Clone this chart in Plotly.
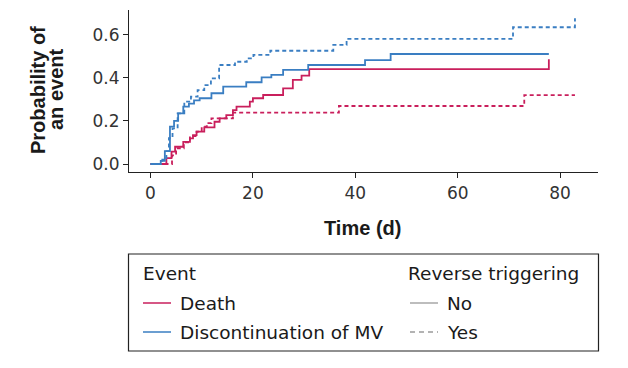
import plotly.graph_objects as go

# ---- data ----
time_death_no = [0, 3.1, 4.1, 4.8, 6.4, 7.7, 8.3, 9.0, 10.5, 12.5, 13.5, 14.8, 16.1, 16.8,
                 19.4, 20.0, 22.0, 25.9, 27.8, 29.5, 31.0, 77.8]
prob_death_no = [0, 0.027, 0.057, 0.08, 0.103, 0.119, 0.134, 0.15, 0.17, 0.196, 0.212, 0.227,
                 0.25, 0.266, 0.289, 0.305, 0.32, 0.351, 0.39, 0.41, 0.44, 0.486]

time_death_yes = [0, 4.2, 5.0, 6.5, 7.7, 9.0, 10.0, 11.0, 11.9, 16.1, 36.8, 73.0, 82.9]
prob_death_yes = [0, 0.04, 0.073, 0.1, 0.13, 0.15, 0.173, 0.19, 0.212, 0.238, 0.269, 0.319, 0.319]

time_disc_no = [0, 2.0, 2.8, 3.8, 4.6, 5.4, 6.4, 7.5, 8.5, 9.6, 11.9, 14.2, 18.7, 21.7, 23.6,
                25.9, 30.8, 41.9, 46.9, 77.8]
prob_disc_no = [0, 0.015, 0.06, 0.173, 0.2, 0.235, 0.266, 0.28, 0.295, 0.305, 0.328, 0.359,
                0.379, 0.402, 0.413, 0.436, 0.459, 0.482, 0.51, 0.51]

time_disc_yes = [0, 2.3, 3.1, 3.6, 4.3, 5.3, 6.6, 7.9, 9.2, 10.5, 11.8, 13.4, 16.5, 18.8, 20.1,
                 23.4, 35.7, 38.3, 70.8, 82.9]
prob_disc_yes = [0, 0.02, 0.06, 0.12, 0.165, 0.235, 0.289, 0.312, 0.343, 0.366, 0.397, 0.459,
                 0.474, 0.49, 0.506, 0.525, 0.552, 0.58, 0.634, 0.676]

x_ticks = [0, 20, 40, 60, 80]
y_ticks = [0.0, 0.2, 0.4, 0.6]
y_tick_text = ["0.0", "0.2", "0.4", "0.6"]

event_names = ["Death", "Discontinuation of MV"]
rt_names = ["No", "Yes"]

RED = "#C91F5C"
BLUE = "#3A7EC2"
GRAY = "#9a9a9a"
FONT = "Liberation Sans, Arial, Helvetica, sans-serif"
FONT2 = "DejaVu Sans, Verdana, sans-serif"
TXT = "#1a1a1a"

OFF = 8  # page body margin
W, H = 628 - OFF, 368 - OFF
L, R, T, B = 129, 598, 10, 172  # plot area in window pixels

fig = go.Figure()

series = [
    (time_death_no, prob_death_no, RED, "solid"),
    (time_death_yes, prob_death_yes, RED, "4px,3px"),
    (time_disc_no, prob_disc_no, BLUE, "solid"),
    (time_disc_yes, prob_disc_yes, BLUE, "4px,3px"),
]
for t, p, c, d in series:
    fig.add_trace(go.Scatter(x=t, y=p, mode="lines", line=dict(color=c, width=1.8, dash=d, shape="hv"),
                             showlegend=False, hoverinfo="skip"))


def px(xp):
    return (xp - L) / (R - L)


def py(yp):
    return (B - yp) / (B - T)


shapes = []
annotations = []

# legend box
shapes.append(dict(type="rect", xref="paper", yref="paper", x0=px(128.5), x1=px(598.5),
                   y0=py(254), y1=py(351), line=dict(color="#222", width=1.2), fillcolor="rgba(0,0,0,0)"))

# legend headings
annotations.append(dict(text="Event", xref="paper", yref="paper", x=px(141), y=py(273),
                        xanchor="left", yanchor="middle", showarrow=False,
                        font=dict(family=FONT2, size=18.5, color=TXT)))
annotations.append(dict(text="Reverse triggering", xref="paper", yref="paper", x=px(406), y=py(273),
                        xanchor="left", yanchor="middle", showarrow=False,
                        font=dict(family=FONT2, size=18.5, color=TXT)))

row_y = [303, 332]
for i, (name, col) in enumerate(zip(event_names, [RED, BLUE])):
    shapes.append(dict(type="line", xref="paper", yref="paper", x0=px(143), x1=px(171),
                       y0=py(row_y[i]), y1=py(row_y[i]), line=dict(color=col, width=1.5)))
    annotations.append(dict(text=name, xref="paper", yref="paper", x=px(178), y=py(row_y[i]),
                            xanchor="left", yanchor="middle", showarrow=False,
                            font=dict(family=FONT2, size=18.5, color=TXT)))
for i, (name, d) in enumerate(zip(rt_names, ["solid", "5px,4px"])):
    shapes.append(dict(type="line", xref="paper", yref="paper", x0=px(410), x1=px(438),
                       y0=py(row_y[i]), y1=py(row_y[i]), line=dict(color=GRAY, width=1.3, dash=d)))
    annotations.append(dict(text=name, xref="paper", yref="paper", x=px(445), y=py(row_y[i]),
                            xanchor="left", yanchor="middle", showarrow=False,
                            font=dict(family=FONT2, size=18.5, color=TXT)))

# y-axis title (two lines)
annotations.append(dict(text="<b>Probability of</b>", xref="paper", yref="paper", x=px(38), y=py(90),
                        xanchor="center", yanchor="middle", textangle=-90, showarrow=False,
                        font=dict(family=FONT, size=20, color=TXT)))
annotations.append(dict(text="<b>an event</b>", xref="paper", yref="paper", x=px(56), y=py(90),
                        xanchor="center", yanchor="middle", textangle=-90, showarrow=False,
                        font=dict(family=FONT, size=20, color=TXT)))
# x-axis title
annotations.append(dict(text="<b>Time (d)</b>", xref="paper", yref="paper", x=px(362), y=py(228),
                        xanchor="center", yanchor="middle", showarrow=False,
                        font=dict(family=FONT, size=20, color=TXT)))

fig.update_layout(
    width=W, height=H,
    margin=dict(l=L - OFF, r=628 - R, t=T - OFF, b=368 - B, pad=0),
    paper_bgcolor="white", plot_bgcolor="white",
    shapes=shapes, annotations=annotations,
    xaxis=dict(range=[-4.2, 87.4], tickvals=x_ticks, ticks="outside", ticklen=5, tickcolor="#222",
               showline=True, linecolor="#222", linewidth=1.2, showgrid=False, zeroline=False,
               tickfont=dict(family=FONT2, size=17, color="#333")),
    yaxis=dict(range=[-0.037, 0.714], tickvals=y_ticks, ticktext=y_tick_text, ticks="outside",
               ticklen=5, tickcolor="#222", showline=True, linecolor="#222", linewidth=1.2,
               showgrid=False, zeroline=False, tickfont=dict(family=FONT2, size=17, color="#333")),
)

fig.write_html("out.html")
